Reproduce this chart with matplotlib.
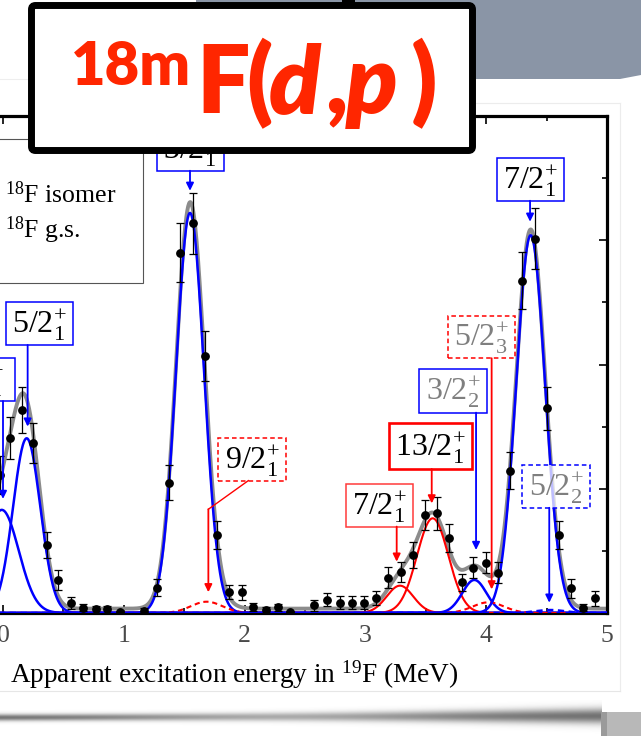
import numpy as np
import matplotlib
matplotlib.use('Agg')
import matplotlib.pyplot as plt
from matplotlib.patches import Rectangle, FancyBboxPatch, Polygon

plt.rcParams['font.family'] = ['Liberation Serif', 'DejaVu Serif']
plt.rcParams['mathtext.fontset'] = 'custom'
plt.rcParams['mathtext.rm'] = 'Liberation Serif'
plt.rcParams['mathtext.it'] = 'Liberation Serif:italic'
plt.rcParams['mathtext.bf'] = 'Liberation Serif:bold'

# ---------------- data ----------------
energy = [-0.025, 0.058, 0.155, 0.251, 0.362, 0.458, 0.56, 0.665, 0.767, 0.864,
          0.969, 1.17, 1.272, 1.374, 1.468, 1.570, 1.672, 1.774, 1.873, 1.976,
          2.072, 2.176, 2.279, 2.378, 2.577, 2.683, 2.788, 2.887, 2.988, 3.09,
          3.19, 3.292, 3.397, 3.493, 3.595, 3.695, 3.797, 3.893, 3.996, 4.10,
          4.197, 4.296, 4.404, 4.50, 4.60, 4.702, 4.804, 4.903]
counts = [11.1, 14.1, 16.3, 13.66, 5.47, 2.66, 0.83, 0.43, 0.29, 0.29,
          0.05, 0.2, 2.04, 10.49, 29.0, 31.36, 20.68, 6.28, 1.66, 1.66,
          0.46, 0.24, 0.46, 0.05, 0.62, 1.07, 0.83, 0.83, 0.83, 1.2,
          2.84, 3.27, 4.67, 7.89, 8.02, 6.06, 2.47, 3.65, 4.05, 3.25,
          11.46, 26.75, 30.13, 16.47, 6.28, 1.99, 0.43, 1.18]
errors = [1.5, 1.67, 1.85, 1.6, 1.07, 0.78, 0.47, 0.3, 0.25, 0.25,
          0.1, 0.2, 0.67, 1.43, 2.39, 2.47, 1.98, 1.1, 0.56, 0.6,
          0.33, 0.25, 0.3, 0.1, 0.45, 0.54, 0.54, 0.54, 0.54, 0.58,
          0.85, 0.8, 1.03, 1.23, 1.34, 1.14, 0.7, 0.87, 0.83, 0.84,
          1.5, 2.3, 2.44, 1.75, 1.1, 0.76, 0.3, 0.58]

# fitted peak components
comp_name = ['1/2+1', '5/2+1', '3/2+1', '9/2+1', '7/2+1m', '13/2+1',
             '3/2+2', '5/2+3', '7/2+1', '5/2+2']
comp_centroid = [-0.01, 0.196, 1.548, 1.686, 3.286, 3.557, 3.902, 4.018, 4.368, 4.53]
comp_amplitude = [8.3, 14.06, 32.2, 0.91, 2.2, 7.62, 2.66, 0.86, 30.4, 0.24]
comp_sigma = [0.14, 0.113, 0.116, 0.13, 0.11, 0.13, 0.10, 0.13, 0.12, 0.12]
comp_isomer = [False, False, False, True, True, True, False, True, False, False]
comp_dashed = [False, False, False, True, False, False, False, True, False, True]
background = 0.35

# state labels
label_text = ['1/2$^{+}_{1}$', '5/2$^{+}_{1}$', '3/2$^{+}_{1}$', '7/2$^{+}_{1}$',
              '9/2$^{+}_{1}$', '7/2$^{+}_{1}$', '13/2$^{+}_{1}$', '3/2$^{+}_{2}$',
              '5/2$^{+}_{3}$', '5/2$^{+}_{2}$']
label_x = [-0.178, 0.302, 1.552, 4.367, 2.062, 3.118, 3.540, 3.725, 3.962, 4.579]
label_y = [18.79, 23.31, 37.31, 34.89, 12.36, 8.66, 13.43, 17.87, 22.22, 10.19]
label_w = [0.555, 0.555, 0.555, 0.56, 0.56, 0.558, 0.69, 0.558, 0.552, 0.56]
label_h = [3.46, 3.48, 3.43, 3.42, 3.41, 3.41, 3.68, 3.49, 3.43, 3.44]
label_dx = [-0.04, 0, 0, 0, 0, 0, 0, 0, 0, 0]
label_isomer = [False, False, False, False, True, True, True, False, True, False]
label_dashed = [False, False, False, False, True, False, False, False, True, True]
label_grey = [False, False, False, False, False, False, False, True, True, True]
arrow_x = [0.0, 0.204, 1.548, 4.363, 1.70, 3.259, 3.549, 3.916, 4.045, 4.522]
arrow_tip = [9.18, 15.0, 33.98, 31.49, 1.67, 4.13, 8.82, 5.07, 1.9, 0.83]

BLUE = '#0000ff'
RED = '#ff0000'

# ---------------- figure ----------------
W, H = 641, 736
fig = plt.figure(figsize=(W / 100, H / 100), dpi=100)
fig.patch.set_facecolor('white')

XMIN, XMAX = -0.5, 5.0
px0, px5 = 3.0, 607.0
ppu = (px5 - px0) / 5.0
left_px = px0 + XMIN * ppu
top_px, bot_px = 116.0, 613.0
ax = fig.add_axes([left_px / W, (H - bot_px) / H, (px5 - left_px) / W, (bot_px - top_px) / H])
ax.set_xlim(XMIN, XMAX)
ax.set_ylim(0, 40)

xs = np.linspace(XMIN, XMAX, 1500)
total = np.full_like(xs, background)
comps = []
for c, a, s in zip(comp_centroid, comp_amplitude, comp_sigma):
    g = a * np.exp(-0.5 * ((xs - c) / s) ** 2)
    comps.append(g)
    total += g

ax.plot(xs, total, color='#8c8c8c', lw=2.8, zorder=2, solid_capstyle='round')
for g, iso, dsh in zip(comps, comp_isomer, comp_dashed):
    col = RED if iso else BLUE
    lw = 1.5 if iso else 1.8
    ls = (0, (2.5, 1.8)) if dsh else '-'
    ax.plot(xs, g, color=col, lw=lw, ls=ls, zorder=3)

ax.errorbar(energy, counts, yerr=errors, fmt='o', color='black', ms=5.3,
            elinewidth=0.9, capsize=3.0, capthick=0.9, zorder=6)

# labels + arrows
for i, t in enumerate(label_text):
    ec = RED if label_isomer[i] else BLUE
    if i == 5:
        ec = '#ff3a3a'
    lw = 1.9 if i == 6 else 1.1
    ls = (0, (3, 2)) if label_dashed[i] else '-'
    bx0 = label_x[i] - label_w[i] / 2
    by0 = label_y[i] - label_h[i] / 2
    ax.add_patch(Rectangle((bx0, by0), label_w[i], label_h[i], fc=(1, 1, 1, 0.75),
                           ec=ec, lw=lw, ls=ls, zorder=7))
    ax.text(label_x[i] + label_dx[i], label_y[i] - 0.15, t, ha='center', va='center',
            fontsize=23, color='#7f7f7f' if label_grey[i] else 'black', zorder=8)
    ybot = by0
    if i == 4:
        ax.plot([2.031, arrow_x[i]], [ybot, 8.35], color=RED, lw=1.0, zorder=7)
        ystart = 8.35
    else:
        ystart = ybot
    ax.annotate('', xy=(arrow_x[i], arrow_tip[i]), xytext=(arrow_x[i], ystart),
                arrowprops=dict(arrowstyle='-|>,head_length=0.45,head_width=0.22',
                                color=ec if i != 5 else RED, lw=1.3,
                                shrinkA=0, shrinkB=0), zorder=7)

# axes styling
for sp in ax.spines.values():
    sp.set_linewidth(2.3)
ax.set_xticks([0, 1, 2, 3, 4, 5])
ax.set_xticks(np.arange(0.5, 5, 1.0), minor=True)
ax.set_yticks([0, 10, 20, 30, 40])
ax.set_yticks([5, 15, 25, 35], minor=True)
ax.tick_params(which='both', direction='in', top=True, right=True, left=True,
               labelleft=False, width=1.2, labelsize=18.5, labelcolor='#4a4a4a', pad=9)
ax.tick_params(which='major', length=6)
ax.tick_params(which='minor', length=3.5)
ax.set_facecolor('white')

# ---------------- overlay (slide decorations) ----------------
ov = fig.add_axes([0, 0, 1, 1], zorder=10)
ov.set_xlim(0, W)
ov.set_ylim(H, 0)
ov.axis('off')
ov.patch.set_alpha(0)

ov.add_patch(Polygon([(196, 0), (641, 0), (641, 75), (620, 79), (196, 79)],
                     closed=True, fc='#8a95a6', ec='none', zorder=1))
ov.add_patch(Rectangle((342, 0), 13, 3, fc='black', ec='none', zorder=1))
ov.plot([476, 620], [103, 103], color='#ececec', lw=0.8, zorder=1)
ov.plot([620, 620], [103, 691], color='#ececec', lw=0.8, zorder=1)
ov.plot([0, 620], [691, 691], color='#e6e6e6', lw=0.8, zorder=1)
ov.plot([0, 28], [79, 79], color='#eeeeee', lw=0.8, zorder=1)

# bottom shadow
sx = np.arange(0, 602)
sy = np.arange(700, 734)
SX, SY = np.meshgrid(sx, sy)
amp = 0.85 - 0.35 * np.exp(-0.5 * ((SX - 280) / 140.0) ** 2)
cen = 717.0 - 1.5 * (SX / 600.0)
wid = 2.4 + 3.0 * (SX / 600.0) ** 2
alpha = amp * np.exp(-0.5 * ((SY - cen) / wid) ** 2)
img = np.zeros(SX.shape + (4,))
img[..., :3] = 0.33
img[..., 3] = alpha
ov.imshow(img, extent=(0, 602, 734, 700), origin='upper', aspect='auto', zorder=1,
          interpolation='bilinear')
ov.add_patch(Rectangle((601, 712), 40, 24, fc='#b8b8b8', ec='none', zorder=1))
ov.add_patch(Rectangle((601, 712), 6, 24, fc='#9a9a9a', ec='none', zorder=1))

# legend box (partly cropped)
ov.add_patch(Rectangle((-20, 139), 163, 144, fc='white', ec='#555555', lw=0.8, zorder=2))
ov.text(5, 203, '$^{18}$F isomer', fontsize=18.5, ha='left', va='baseline', zorder=3)
ov.text(5, 238, '$^{18}$F g.s.', fontsize=18.5, ha='left', va='baseline', zorder=3)

# x-axis label
ov.text(10, 683, 'Apparent excitation energy in $^{19}$F (MeV)', fontsize=19.6,
        ha='left', va='baseline', zorder=3)

# title box
ov.add_patch(FancyBboxPatch((31.5, 5.5), 441, 145, boxstyle='round,pad=0,rounding_size=4',
                            fc='white', ec='black', lw=5.0, zorder=5))
TC = '#ff2600'
tf = dict(family=['Lato', 'Liberation Sans', 'DejaVu Sans'], weight='heavy', color=TC,
          va='baseline', ha='left', zorder=6)
ov.text(71, 85, '18m', fontsize=43, **tf)
ov.text(196, 113, 'F', fontsize=68, **tf)
ov.text(246, 113, '(', fontsize=68, **tf)
ov.text(269, 113, 'd', fontsize=68, style='italic', **tf)
ov.text(327, 113, ',', fontsize=68, style='italic', **tf)
ov.text(346, 113, 'p', fontsize=68, style='italic', **tf)
ov.text(411, 113, ')', fontsize=68, **tf)

fig.savefig('out.png', dpi=100)
